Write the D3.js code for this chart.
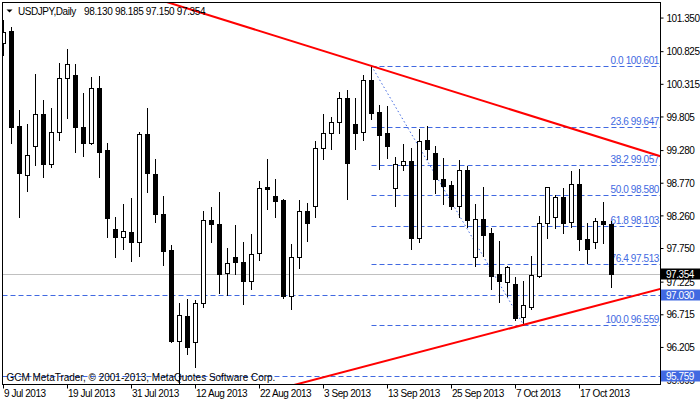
<!DOCTYPE html>
<html><head><meta charset="utf-8">
<script src="https://cdn.jsdelivr.net/npm/d3@7"></script>
<style>
body{margin:0;background:#fff;}
svg{display:block;font-family:"Liberation Sans",Arial,sans-serif;}
</style>
</head><body>
<svg id="c" width="700" height="402"></svg>
<script>
const symbolTitle = "USDJPY,Daily";
const dates = [
"2013-07-09","2013-07-10","2013-07-11","2013-07-12","2013-07-15","2013-07-16","2013-07-17","2013-07-18","2013-07-19","2013-07-22",
"2013-07-23","2013-07-24","2013-07-25","2013-07-26","2013-07-29","2013-07-30","2013-07-31","2013-08-01","2013-08-02","2013-08-05",
"2013-08-06","2013-08-07","2013-08-08","2013-08-09","2013-08-12","2013-08-13","2013-08-14","2013-08-15","2013-08-16","2013-08-19",
"2013-08-20","2013-08-21","2013-08-22","2013-08-23","2013-08-26","2013-08-27","2013-08-28","2013-08-29","2013-08-30","2013-09-02",
"2013-09-03","2013-09-04","2013-09-05","2013-09-06","2013-09-09","2013-09-10","2013-09-11","2013-09-12","2013-09-13","2013-09-16",
"2013-09-17","2013-09-18","2013-09-19","2013-09-20","2013-09-23","2013-09-24","2013-09-25","2013-09-26","2013-09-27","2013-09-30",
"2013-10-01","2013-10-02","2013-10-03","2013-10-04","2013-10-07","2013-10-08","2013-10-09","2013-10-10","2013-10-11","2013-10-14",
"2013-10-15","2013-10-16","2013-10-17","2013-10-18","2013-10-21","2013-10-22","2013-10-23"];
const open = [
100.956,101.148,99.664,98.894,99.356,99.851,99.075,99.566,100.409,100.461,
99.648,99.403,100.253,99.289,98.050,97.935,98.004,97.857,99.539,98.914,
98.285,97.727,96.310,96.696,96.285,96.904,98.196,98.133,97.363,97.613,
97.535,97.248,97.676,98.706,98.571,98.508,97.009,97.613,98.336,98.419,
99.316,99.550,99.731,100.097,99.695,99.566,100.378,99.878,99.550,98.691,
99.050,99.113,97.910,99.445,99.238,98.836,98.742,98.419,98.977,97.622,
98.211,97.988,97.352,97.232,97.196,96.685,96.841,97.321,98.144,98.238,
98.550,98.169,98.758,97.894,97.847,98.180,98.130];
const high = [
101.320,101.215,99.914,99.695,100.476,100.075,99.950,100.653,100.867,100.628,
100.175,100.434,100.440,99.403,98.247,98.446,98.535,99.575,99.950,99.148,
98.571,97.805,96.904,96.957,96.946,98.341,98.403,98.638,97.754,98.118,
97.847,97.977,98.805,99.148,98.836,98.524,97.816,98.508,98.457,99.430,
99.847,99.809,100.200,100.226,100.097,100.461,100.601,99.992,99.976,99.184,
99.383,99.316,99.612,99.664,99.356,99.164,98.805,99.133,99.044,98.446,
98.706,98.071,97.872,97.477,97.310,97.243,97.633,98.258,98.716,98.586,
98.691,98.961,98.992,98.144,98.222,98.481,98.185];
const low = [
100.773,99.403,98.247,98.653,99.055,98.872,99.028,99.445,99.794,99.262,
99.200,99.378,98.872,97.935,97.613,97.738,97.560,97.633,98.638,98.169,
97.493,96.295,95.645,96.103,95.904,96.841,97.857,97.051,97.024,97.352,
96.884,97.113,97.571,98.367,98.247,96.973,96.801,97.441,97.872,98.247,
99.148,99.300,99.550,98.524,99.305,99.445,99.773,98.992,99.169,98.419,
98.977,97.738,97.857,99.144,98.622,98.446,98.367,98.247,98.082,97.482,
97.633,97.118,96.910,97.009,96.634,96.559,96.805,97.310,97.910,98.075,
97.988,98.091,97.727,97.519,97.754,97.841,97.150];
const close = [
101.137,99.653,98.934,99.211,99.851,99.075,99.566,100.409,100.628,99.653,
99.403,100.253,99.262,98.232,97.935,98.024,97.857,99.539,98.934,98.285,
97.716,96.310,96.712,96.207,96.895,98.196,98.128,97.352,97.519,97.535,
97.248,97.660,98.691,98.680,98.497,97.013,97.613,98.336,98.153,99.316,
99.550,99.722,100.097,99.091,99.559,100.378,99.872,99.523,99.356,99.066,
99.113,97.919,99.434,99.305,98.831,98.731,98.419,98.977,98.196,98.211,
97.961,97.326,97.243,97.462,96.670,96.868,97.337,98.144,98.706,98.550,
98.153,98.758,97.894,97.738,98.180,98.128,97.354];
const priceTicks = [101.350,100.825,100.315,99.805,99.280,98.770,98.260,97.750,97.225,96.715,96.205,95.695];
const dateTicks = ["2013-07-09","2013-07-19","2013-07-31","2013-08-12","2013-08-22","2013-09-03","2013-09-13","2013-09-25","2013-10-07","2013-10-17"];
const fibLevels = [0.0,23.6,38.2,50.0,61.8,76.4,100.0];
const fibPrices = [100.601,99.647,99.057,98.580,98.103,97.513,96.559];
const fibStart = {date:"2013-09-11", price:100.601};
const fibEnd = {date:"2013-10-08", price:96.559};
const hLines = [97.030, 95.759];
const lastPrice = 97.354;
const upperTrend = [{date:"2013-08-06", price:101.616},{date:"2013-09-11", price:100.601}];
const lowerTrend = [{date:"2013-08-29", price:95.641},{date:"2013-10-08", price:96.559}];
const copyright = "GCM MetaTrader, \u00A9 2001-2013, MetaQuotes Software Corp.";

const W = 700, H = 402;
const L = 2.5, R = 660.5, T = 2.5, B = 384.5;
const BLUE = "#4169e1";
const svg = d3.select("#c");
const x = d3.scaleBand().domain(dates).range([-0.5, 615.5]).padding(0);
const cx = d => x(d) + x.bandwidth()/2;
const y = d3.scaleLinear().domain([95.634, 101.632]).range([384, 0]);
const ry = v => Math.round(y(v));

svg.append("defs").append("clipPath").attr("id","plot")
  .append("rect").attr("x", 3).attr("y", 3).attr("width", R - 3.5).attr("height", B - 3.5);

const plot = svg.append("g").attr("clip-path","url(#plot)");

plot.append("line").attr("x1", L).attr("x2", R)
  .attr("y1", ry(lastPrice)+0.5).attr("y2", ry(lastPrice)+0.5)
  .attr("stroke","#c0c0c0").attr("stroke-width",1);

plot.selectAll("line.h").data(hLines).join("line").attr("class","h")
  .attr("x1", L).attr("x2", R)
  .attr("y1", d => ry(d)+0.5).attr("y2", d => ry(d)+0.5)
  .attr("stroke", BLUE).attr("stroke-dasharray","5,3").attr("stroke-width",1);

const fx0 = cx(fibStart.date);
plot.selectAll("line.fib").data(fibPrices).join("line").attr("class","fib")
  .attr("x1", fx0).attr("x2", R)
  .attr("y1", d => ry(d)+0.5).attr("y2", d => ry(d)+0.5)
  .attr("stroke", BLUE).attr("stroke-dasharray","5,3").attr("stroke-width",1);
plot.append("line")
  .attr("x1", cx(fibStart.date)).attr("y1", y(fibStart.price))
  .attr("x2", cx(fibEnd.date)).attr("y2", y(fibEnd.price))
  .attr("stroke", BLUE).attr("stroke-dasharray","1.5,2.5").attr("stroke-width",1);
plot.selectAll("text.fib").data(fibPrices).join("text").attr("class","fib")
  .attr("x", 659).attr("y", d => ry(d) - 2)
  .attr("text-anchor","end").attr("font-size",10).attr("letter-spacing","-0.4px")
  .attr("fill", BLUE)
  .text((d,i) => fibLevels[i].toFixed(1) + " " + d.toFixed(3));

const idx = d3.range(dates.length);
const cg = plot.append("g");
cg.selectAll("line.w").data(idx).join("line").attr("class","w")
  .attr("x1", i => cx(dates[i])).attr("x2", i => cx(dates[i]))
  .attr("y1", i => ry(high[i])).attr("y2", i => ry(low[i]) + 1)
  .attr("stroke","#000").attr("stroke-width",1);
cg.selectAll("rect.b").data(idx).join("rect").attr("class","b")
  .each(function(i){
    const up = close[i] >= open[i];
    const yt = ry(Math.max(open[i], close[i]));
    const yb = ry(Math.min(open[i], close[i]));
    const s = d3.select(this);
    if (up) {
      s.attr("x", cx(dates[i]) - 2).attr("y", yt + 0.5)
       .attr("width", 4).attr("height", Math.max(0, yb - yt))
       .attr("fill","#fff").attr("stroke","#000").attr("stroke-width",1);
    } else {
      s.attr("x", cx(dates[i]) - 2.5).attr("y", yt)
       .attr("width", 5).attr("height", Math.max(1, yb - yt + 1))
       .attr("fill","#000");
    }
  });

function trend(a){
  const x1 = cx(a[0].date), y1 = y(a[0].price), x2 = cx(a[1].date), y2 = y(a[1].price);
  const k = (y2 - y1) / (x2 - x1);
  return [[0, y1 + (0 - x1)*k], [W, y1 + (W - x1)*k]];
}
[upperTrend, lowerTrend].forEach(t => {
  plot.append("path").attr("d", d3.line()(trend(t)))
    .attr("stroke","#ff0000").attr("stroke-width",2).attr("fill","none");
});

svg.append("rect").attr("x", L).attr("y", T).attr("width", R - L).attr("height", B - T)
  .attr("fill","none").attr("stroke","#000").attr("stroke-width",1);

const ya = svg.append("g").attr("transform", `translate(${R},0)`)
  .call(d3.axisRight(y).tickValues(priceTicks).tickSize(3).offset(0).tickFormat(d3.format(".3f")));
ya.select(".domain").remove();
ya.selectAll("line").attr("stroke","#000");
ya.selectAll("text").attr("x", 6).attr("dy","0.37em").attr("font-size",10)
  .attr("letter-spacing","-0.45px").attr("fill","#000").attr("font-family","Liberation Sans, Arial, sans-serif");
ya.attr("font-size",null).attr("font-family",null);

const parse = d3.timeParse("%Y-%m-%d");
const fmt = d3.timeFormat("%-d %b %Y");
const xa = svg.append("g").attr("transform", `translate(0,${B})`)
  .call(d3.axisBottom(x).tickValues(dateTicks).tickSize(4).offset(0).tickFormat(d => fmt(parse(d))));
xa.select(".domain").remove();
xa.selectAll("line").attr("stroke","#000");
xa.selectAll("text").attr("text-anchor","start").attr("x", 0.5).attr("y", 12.5).attr("dy", null)
  .attr("font-size",10).attr("letter-spacing","-0.45px").attr("fill","#000")
  .attr("font-family","Liberation Sans, Arial, sans-serif");
xa.attr("font-size",null).attr("font-family",null);

function priceBox(p, fill){
  const py = ry(p);
  svg.append("rect").attr("x", 661).attr("y", py - 5.5).attr("width", 39).attr("height", 11).attr("fill", fill);
  svg.append("text").attr("x", 666).attr("y", py + 4).attr("font-size",10).attr("letter-spacing","-0.45px")
    .attr("fill","#fff").text(p.toFixed(3));
}
priceBox(lastPrice, "#000");
hLines.forEach(h => priceBox(h, BLUE));

svg.append("path").attr("d","M6.5,9.5 L12.5,9.5 L9.5,12.5 Z").attr("fill","#000");
svg.append("text").attr("x", 18).attr("y", 14.5).attr("font-size",10).attr("letter-spacing","-0.45px")
  .attr("fill","#000").text(symbolTitle);
svg.append("text").attr("x", 84).attr("y", 14.5).attr("font-size",10).attr("letter-spacing","-0.35px")
  .attr("fill","#000").text([open[76], high[76], low[76], close[76]].map(v => v.toFixed(3)).join(" "));

svg.append("text").attr("x", 6.5).attr("y", 380.5).attr("font-size",10).attr("letter-spacing","-0.02px")
  .attr("fill","#000").text(copyright);
</script>
</body></html>
